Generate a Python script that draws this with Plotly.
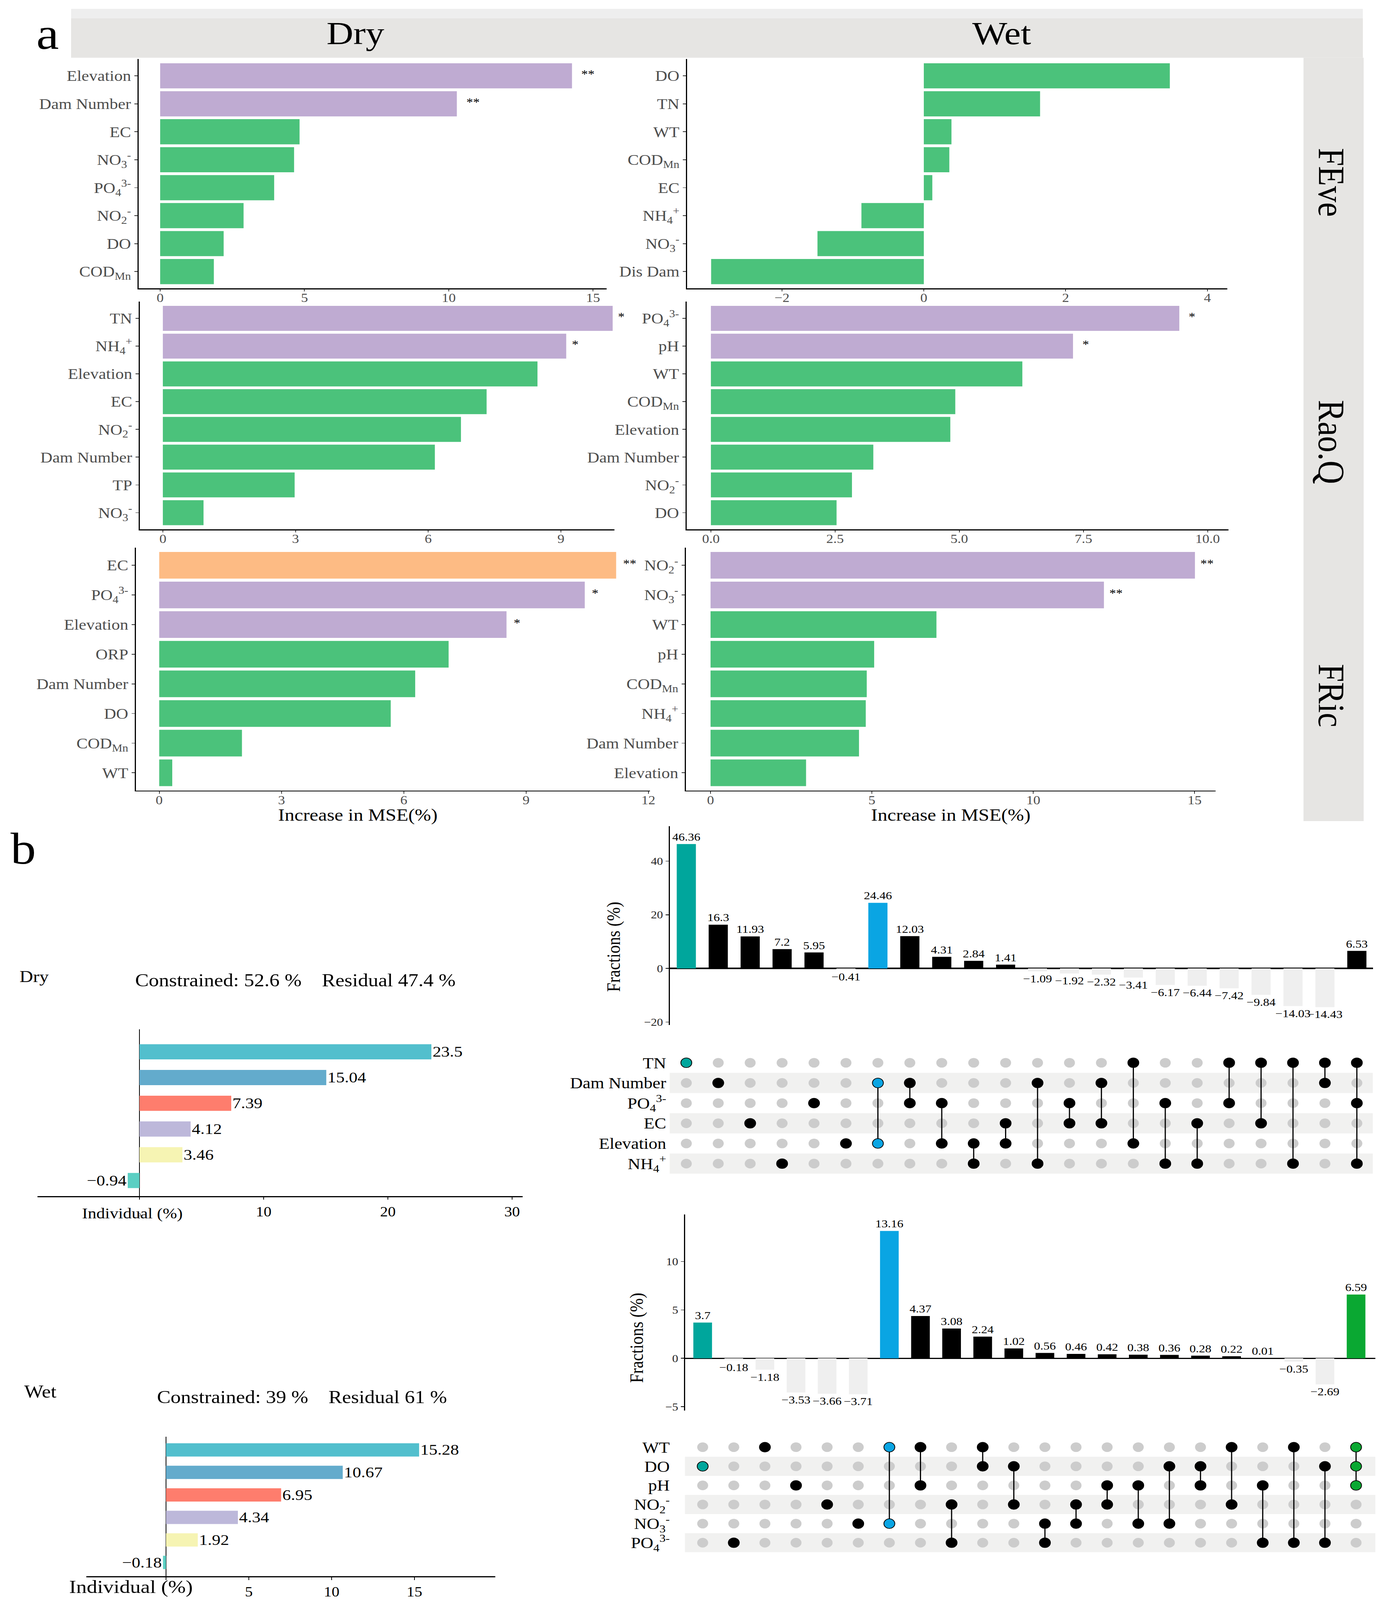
import plotly.graph_objects as go

W, H = 3538, 4661
FONT = "Liberation Serif"

# ---------------- Panel a data (Increase in MSE %) ----------------
feve_dry_vars = ["Elevation", "Dam Number", "EC", "NO3", "PO4", "NO2", "DO", "CODMn"]
feve_dry_vals = [14.27, 10.28, 4.83, 4.64, 3.95, 2.89, 2.20, 1.86]
feve_dry_sig = ["**", "**", "", "", "", "", "", ""]
feve_dry_grp = ["sig", "sig", "ns", "ns", "ns", "ns", "ns", "ns"]

feve_wet_vars = ["DO", "TN", "WT", "CODMn", "EC", "NH4", "NO3", "Dis Dam"]
feve_wet_vals = [3.47, 1.64, 0.39, 0.36, 0.12, -0.88, -1.50, -3.00]
feve_wet_sig = ["", "", "", "", "", "", "", ""]
feve_wet_grp = ["ns", "ns", "ns", "ns", "ns", "ns", "ns", "ns"]

raoq_dry_vars = ["TN", "NH4", "Elevation", "EC", "NO2", "Dam Number", "TP", "NO3"]
raoq_dry_vals = [10.17, 9.12, 8.47, 7.32, 6.74, 6.15, 2.98, 0.92]
raoq_dry_sig = ["*", "*", "", "", "", "", "", ""]
raoq_dry_grp = ["sig", "sig", "ns", "ns", "ns", "ns", "ns", "ns"]

raoq_wet_vars = ["PO4", "pH", "WT", "CODMn", "Elevation", "Dam Number", "NO2", "DO"]
raoq_wet_vals = [9.43, 7.29, 6.27, 4.92, 4.82, 3.27, 2.84, 2.53]
raoq_wet_sig = ["*", "*", "", "", "", "", "", ""]
raoq_wet_grp = ["sig", "sig", "ns", "ns", "ns", "ns", "ns", "ns"]

fric_dry_vars = ["EC", "PO4", "Elevation", "ORP", "Dam Number", "DO", "CODMn", "WT"]
fric_dry_vals = [11.21, 10.44, 8.52, 7.10, 6.28, 5.68, 2.03, 0.32]
fric_dry_sig = ["**", "*", "*", "", "", "", "", ""]
fric_dry_grp = ["top", "sig", "sig", "ns", "ns", "ns", "ns", "ns"]

fric_wet_vars = ["NO2", "NO3", "WT", "pH", "CODMn", "NH4", "Dam Number", "Elevation"]
fric_wet_vals = [15.01, 12.19, 7.00, 5.07, 4.84, 4.81, 4.60, 2.96]
fric_wet_sig = ["**", "**", "", "", "", "", "", ""]
fric_wet_grp = ["sig", "sig", "ns", "ns", "ns", "ns", "ns", "ns"]

season_titles = ["Dry", "Wet"]
index_titles = ["FEve", "Rao.Q", "FRic"]

# ---------------- Panel b data ----------------
seasons = ["Dry", "Wet"]
constrained_pct = [52.6, 39]
residual_pct = [47.4, 61]
indiv_dry = [23.5, 15.04, 7.39, 4.12, 3.46, -0.94]
indiv_wet = [15.28, 10.67, 6.95, 4.34, 1.92, -0.18]

up_dry_sets = ["TN", "Dam Number", "PO4", "EC", "Elevation", "NH4"]
up_dry_combos = [["TN"], ["Dam Number"], ["EC"], ["NH4"], ["PO4"], ["Elevation"],
                 ["Dam Number", "Elevation"], ["Dam Number", "PO4"], ["PO4", "Elevation"],
                 ["Elevation", "NH4"], ["EC", "Elevation"], ["Dam Number", "NH4"],
                 ["PO4", "EC"], ["Dam Number", "EC"], ["TN", "Elevation"], ["PO4", "NH4"],
                 ["EC", "NH4"], ["TN", "PO4"], ["TN", "EC"], ["TN", "NH4"],
                 ["TN", "Dam Number"], ["TN", "PO4", "NH4"]]
up_dry_vals = [46.36, 16.3, 11.93, 7.2, 5.95, -0.41, 24.46, 12.03, 4.31, 2.84, 1.41,
               -1.09, -1.92, -2.32, -3.41, -6.17, -6.44, -7.42, -9.84, -14.03, -14.43, 6.53]

up_wet_sets = ["WT", "DO", "pH", "NO2", "NO3", "PO4"]
up_wet_combos = [["DO"], ["PO4"], ["WT"], ["pH"], ["NO2"], ["NO3"],
                 ["WT", "NO3"], ["WT", "pH"], ["NO2", "PO4"], ["WT", "DO"], ["DO", "NO2"],
                 ["NO3", "PO4"], ["NO2", "NO3"], ["pH", "NO2"], ["pH", "NO3"], ["DO", "NO3"],
                 ["DO", "pH"], ["WT", "NO2"], ["pH", "PO4"], ["WT", "PO4"], ["DO", "PO4"],
                 ["WT", "DO", "pH"]]
up_wet_vals = [3.7, -0.18, -1.18, -3.53, -3.66, -3.71, 13.16, 4.37, 3.08, 2.24, 1.02,
               0.56, 0.46, 0.42, 0.38, 0.36, 0.28, 0.22, 0.01, -0.35, -2.69, 6.59]

# ---------------- styles ----------------
LABEL = {"NO3": "NO<sub>3</sub><sup>-</sup>", "NO2": "NO<sub>2</sub><sup>-</sup>",
         "PO4": "PO<sub>4</sub><sup>3-</sup>", "NH4": "NH<sub>4</sub><sup>+</sup>",
         "CODMn": "COD<sub>Mn</sub>"}
A_COLORS = {"ns": "#4BC27B", "sig": "#BFABD2", "top": "#FDBB84"}
B_COLORS = ["#52BFCD", "#63ABCC", "#FE7D6D", "#BDB8DA", "#F6F4B3", "#5BCFC3"]
TEAL, BLUE, GREEN = "#00A69C", "#0AA5E3", "#0AA832"
NEG = "#EFEFEF"
STRIP = "#E6E5E3"


def fx(x):
    return x / W


def fy(y):
    return 1 - y / H


def names(i):
    s = "" if i == 1 else str(i)
    return "xaxis" + s, "yaxis" + s, "x" + s, "y" + s


def fmt(v):
    return f"{v:g}".replace("-", "\u2212")


fig = go.Figure()
layout = dict(width=W, height=H, margin=dict(l=0, r=0, t=0, b=0), template="none",
              paper_bgcolor="white", plot_bgcolor="white", showlegend=False,
              font=dict(family=FONT, color="black"))
shapes = []
ann = []


def add_text(text, x, y, size, angle=0, xanchor="center", color="black"):
    ann.append(dict(text=text, x=fx(x), y=fy(y), xref="paper", yref="paper", showarrow=False,
                    xanchor=xanchor, yanchor="middle", textangle=angle,
                    font=dict(family=FONT, size=size, color=color)))


# ---------------- Panel a ----------------
panels_a = [
    (feve_dry_vars, feve_dry_vals, feve_dry_sig, feve_dry_grp, (355, 1553, 172, 840), (-0.745, 15.47), 5, "", 22),
    (feve_wet_vars, feve_wet_vals, feve_wet_sig, feve_wet_grp, (1759, 3142, 172, 840), (-3.339, 4.281), 2, "", 12),
    (raoq_dry_vars, raoq_dry_vals, raoq_dry_sig, raoq_dry_grp, (358, 1573, 879, 1542), (-0.52, 10.21), 3, "", 12),
    (raoq_wet_vars, raoq_wet_vals, raoq_wet_sig, raoq_wet_grp, (1758, 3145, 879, 1542), (-0.487, 10.42), 2.5, ".1f", 22),
    (fric_dry_vars, fric_dry_vals, fric_dry_sig, fric_dry_grp, (348, 1664, 1595, 2303), (-0.571, 12.04), 3, "", 16),
    (fric_wet_vars, fric_wet_vals, fric_wet_sig, fric_wet_grp, (1756, 3112, 1595, 2303), (-0.763, 15.65), 5, "", 12),
]

ax_i = 0
for vars_, vals, sig, grp, box, xr, dt, tf, sshift in panels_a:
    ax_i += 1
    xa, ya, xid, yid = names(ax_i)
    labels = [LABEL.get(v, v) for v in vars_]
    fig.add_trace(go.Bar(x=vals, y=labels, orientation="h",
                         marker=dict(color=[A_COLORS[g] for g in grp], line=dict(width=0)),
                         width=0.9, cliponaxis=False, hoverinfo="skip", xaxis=xid, yaxis=yid))
    for j, (v, s) in enumerate(zip(vals, sig)):
        if s:
            ann.append(dict(text=s, x=v, y=j, xref=xid, yref=yid, showarrow=False,
                            xanchor="left", yanchor="middle", xshift=sshift, yshift=6,
                            font=dict(family=FONT, size=34, color="black")))
    x0, x1, y0, y1 = box
    layout[xa] = dict(domain=[fx(x0), fx(x1)], anchor=yid, range=list(xr), tick0=0, dtick=dt,
                      tickformat=tf, showline=True, linecolor="black", linewidth=3,
                      ticks="outside", ticklen=6, tickwidth=2, tickcolor="#333333",
                      ticklabelstandoff=-12,
                      tickfont=dict(family=FONT, size=36, color="#4D4D4D"),
                      showgrid=False, zeroline=False, automargin=False)
    layout[ya] = dict(domain=[fy(y1), fy(y0)], anchor=xid, type="category",
                      categoryorder="array", categoryarray=labels,
                      range=[len(labels) - 0.4, -0.6], showline=True, linecolor="black",
                      linewidth=3, ticks="outside", ticklen=8, tickwidth=2, tickcolor="#333333",
                      tickfont=dict(family=FONT, size=43, color="#4D4D4D"),
                      showgrid=False, zeroline=False, automargin=False)

# strips
shapes.append(dict(type="rect", xref="paper", yref="paper", x0=fx(182), x1=fx(3489), y0=fy(53), y1=fy(26),
                   fillcolor="#EEEEEE", line=dict(width=0), layer="below"))
shapes.append(dict(type="rect", xref="paper", yref="paper", x0=fx(182), x1=fx(3489), y0=fy(168), y1=fy(53),
                   fillcolor=STRIP, line=dict(width=0), layer="below"))
shapes.append(dict(type="rect", xref="paper", yref="paper", x0=fx(3337), x1=fx(3491), y0=fy(2392), y1=fy(168),
                   fillcolor=STRIP, line=dict(width=0), layer="below"))
for t, xc in zip(season_titles, [910, 2564]):
    add_text(t, xc, 97, 95)
for t, yc in zip(index_titles, [531, 1287, 2026]):
    add_text(t, 3408, yc, 95, angle=90)
add_text("Increase in MSE(%)", 916, 2374, 50)
add_text("Increase in MSE(%)", 2434, 2374, 50)
add_text("a", 122, 98, 130)

# ---------------- Panel b: individual bars ----------------
add_text("b", 59, 2472, 130)
b_specs = [
    (indiv_dry, (95.5, 1337.5, 2998, 3484), (-8.22, 30.83), (5.6, -0.88), [0, 10, 20, 30],
     ["<span style='font-size:14px'>0</span>", "10", "20", "30"], 2844, 87.5, 2856, 756, 3534, 339, 44, 48),
    (indiv_wet, (221, 1268, 4185, 4591.5), (-4.81, 19.88), (5.61, -0.59), [0, 5, 10, 15],
     ["", "5", "10", "15"], 4054, 103, 4069, 773, 4623, 335, 54, 52),
]
for k, (vals, box, xr, yr, tv, tt, sy, sx, cy, cx, iy, ix, isz, ssz) in enumerate(b_specs):
    ax_i += 1
    xa, ya, xid, yid = names(ax_i)
    fig.add_trace(go.Bar(x=vals, y=list(range(len(vals))), orientation="h",
                         marker=dict(color=B_COLORS, line=dict(width=0)), width=0.59,
                         text=[fmt(v) for v in vals], textposition="outside", textangle=0,
                         textfont=dict(family=FONT, size=44, color="black"),
                         constraintext="none", cliponaxis=False, hoverinfo="skip",
                         xaxis=xid, yaxis=yid))
    x0, x1, y0, y1 = box
    layout[xa] = dict(domain=[fx(x0), fx(x1)], anchor=yid, range=list(xr), tickvals=tv, ticktext=tt,
                      showline=True, linecolor="black", linewidth=4, ticks="outside", ticklen=7,
                      tickwidth=2, tickcolor="black", tickfont=dict(family=FONT, size=40, color="black"),
                      showgrid=False, zeroline=True, zerolinecolor="black", zerolinewidth=2,
                      automargin=False)
    layout[ya] = dict(domain=[fy(y1), fy(y0)], anchor=xid, range=list(yr), visible=False,
                      showgrid=False, zeroline=False, automargin=False)
    add_text(seasons[k], sx, sy, ssz)
    add_text(f"Constrained: {constrained_pct[k]:g} %\u00a0\u00a0\u00a0\u00a0Residual {residual_pct[k]:g} %",
             cx, cy, 52)
    add_text("Individual (%)", ix, iy, isz)

# ---------------- Panel b: UpSet plots ----------------
up_specs = [
    dict(sets=up_dry_sets, combos=up_dry_combos, vals=up_dry_vals, hl={0: TEAL, 6: BLUE},
         bar=(1714.5, 3514.5, 2407, 2986), xr=(-0.52, 21.5), yr=(-21.1, 53.0), dt=20,
         mat=(1714.5, 3514.5, 3066.6, 3419.2), standoff=8, ttl=(1571.5, 2758)),
    dict(sets=up_wet_sets, combos=up_wet_combos, vals=up_wet_vals, hl={0: TEAL, 6: BLUE, 21: GREEN},
         bar=(1753.5, 3521, 3538, 4109), xr=(-0.57, 21.62), yr=(-5.39, 14.86), dt=5,
         mat=(1753.5, 3521, 4188, 4522), standoff=38, ttl=(1630, 3897.6)),
]
for sp in up_specs:
    vals = sp["vals"]
    cols = list(range(len(vals)))
    ax_i += 1
    xa, ya, xid, yid = names(ax_i)
    colors = [sp["hl"].get(i, "black") if v > 0 else NEG for i, v in enumerate(vals)]
    fig.add_trace(go.Bar(x=cols, y=vals, marker=dict(color=colors, line=dict(width=0)), width=0.6,
                         text=[fmt(v) for v in vals], textposition="outside", textangle=0,
                         textfont=dict(family=FONT, size=32, color="black"),
                         constraintext="none", cliponaxis=False, hoverinfo="skip",
                         xaxis=xid, yaxis=yid))
    x0, x1, y0, y1 = sp["bar"]
    layout[xa] = dict(domain=[fx(x0), fx(x1)], anchor=yid, range=list(sp["xr"]), visible=False,
                      showgrid=False, zeroline=False, automargin=False)
    layout[ya] = dict(domain=[fy(y1), fy(y0)], anchor=xid, range=list(sp["yr"]), tick0=0, dtick=sp["dt"],
                      showline=True, linecolor="black", linewidth=3, ticks="outside", ticklen=8,
                      tickwidth=2, tickcolor="black", tickfont=dict(family=FONT, size=31, color="#222222"),
                      showgrid=False, zeroline=True, zerolinecolor="black", zerolinewidth=4,
                      automargin=False)
    add_text("Fractions (%)", sp["ttl"][0], sp["ttl"][1], 48, angle=-90)

    ax_i += 1
    xa, ya, xid, yid = names(ax_i)
    sets = sp["sets"]
    n = len(sets)
    x0, x1, y0, y1 = sp["mat"]
    layout[xa] = dict(domain=[fx(x0), fx(x1)], anchor=yid, range=list(sp["xr"]), visible=False,
                      showgrid=False, zeroline=False, automargin=False)
    layout[ya] = dict(domain=[fy(y1), fy(y0)], anchor=xid, range=[n - 0.5, -0.5],
                      tickvals=list(range(n)), ticktext=[LABEL.get(s, s) for s in sets],
                      ticks="", showline=False, showgrid=False, zeroline=False,
                      ticklabelstandoff=sp["standoff"],
                      tickfont=dict(family=FONT, size=45, color="black"), automargin=False)
    for r in range(1, n, 2):
        shapes.append(dict(type="rect", xref=xid + " domain", yref=yid, x0=0, x1=1, y0=r - 0.5, y1=r + 0.5,
                           fillcolor="#F1F1F0", line=dict(width=0), layer="below"))
    gx, gy, ax_, ay_, ac = [], [], [], [], []
    lx, ly = [], []
    for c, combo in enumerate(sp["combos"]):
        rows = [sets.index(s) for s in combo]
        for r in range(n):
            if r in rows:
                ax_.append(c)
                ay_.append(r)
                ac.append(sp["hl"].get(c, "black"))
            else:
                gx.append(c)
                gy.append(r)
        if len(rows) > 1:
            lx += [c, c, None]
            ly += [min(rows), max(rows), None]
    fig.add_trace(go.Scatter(x=gx, y=gy, mode="markers", marker=dict(size=28, color="#CCCCCC"),
                             hoverinfo="skip", xaxis=xid, yaxis=yid, cliponaxis=False))
    fig.add_trace(go.Scatter(x=lx, y=ly, mode="lines", line=dict(color="black", width=3),
                             hoverinfo="skip", xaxis=xid, yaxis=yid))
    fig.add_trace(go.Scatter(x=ax_, y=ay_, mode="markers",
                             marker=dict(size=28, color=ac, line=dict(color="black", width=2)),
                             hoverinfo="skip", xaxis=xid, yaxis=yid, cliponaxis=False))

layout["shapes"] = shapes
layout["annotations"] = ann
fig.update_layout(**layout)

# Fit the full figure inside the browser viewport so nothing is cut off.
post = """
(function(){
  var gd = document.getElementById('{plot_id}');
  document.documentElement.style.margin = '0';
  document.body.style.margin = '0';
  document.body.style.overflow = 'hidden';
  var sx = Math.min(1, window.innerWidth / %d);
  var sy = Math.min(1, window.innerHeight / %d);
  gd.style.transformOrigin = '0 0';
  gd.style.transform = 'scale(' + sx + ',' + sy + ')';
})();
""" % (W, H)
fig.write_html("out.html", post_script=post, config={"displayModeBar": False})
